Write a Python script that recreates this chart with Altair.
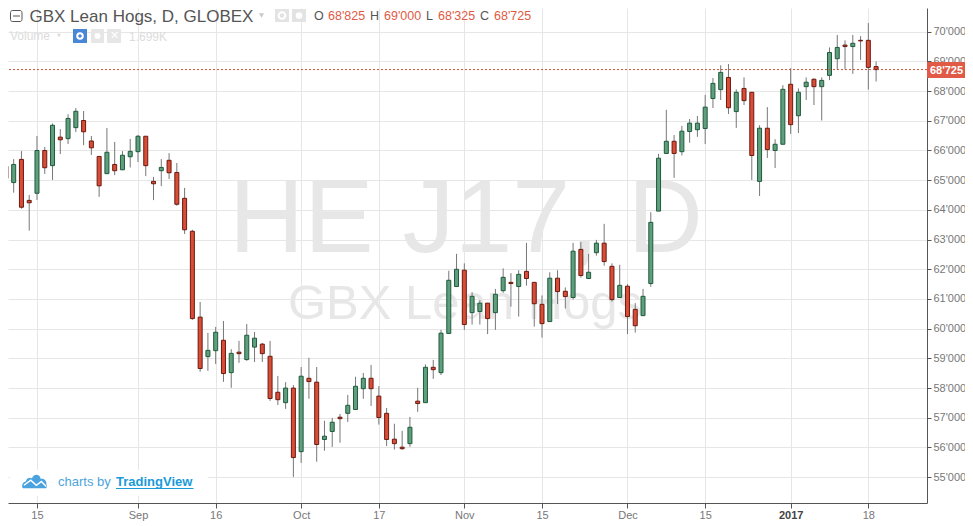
import altair as alt
import pandas as pd

tops = [65.47,65.53,65.70,64.32,66.00,66.00,66.85,66.45,67.08,67.32,67.01,66.32,65.80,65.94,65.53,65.84,65.97,66.48,66.48,64.96,
        65.43,65.67,65.26,64.39,63.28,60.39,59.27,59.88,59.61,59.17,59.21,59.78,59.68,59.48,59.07,57.86,58.00,58.00,58.40,58.33,
        58.20,56.38,56.85,57.02,57.42,58.06,58.33,58.33,57.73,57.15,56.28,56.01,56.68,57.56,58.70,58.70,59.85,61.63,62.00,61.97,
        61.09,60.86,60.86,61.16,61.73,61.56,61.83,61.93,61.56,60.82,61.70,61.70,61.26,62.61,62.67,61.90,62.88,62.88,62.10,61.46,
        61.43,60.65,61.09,63.58,65.74,66.31,66.31,66.65,66.92,66.92,67.46,68.26,68.63,68.46,67.96,68.09,67.96,66.75,66.75,66.21,
        68.06,68.23,67.96,68.30,68.40,68.36,69.30,69.47,69.55,69.61,69.71,69.71,68.825]
bottoms = [65.06,64.92,64.09,64.24,64.56,65.42,65.49,66.36,66.40,66.77,66.63,66.09,64.81,65.22,65.32,65.35,65.79,65.96,65.49,64.88,
           65.32,65.25,64.19,63.33,60.34,58.66,59.06,59.26,58.49,58.52,59.16,58.96,59.38,59.16,57.65,57.61,57.51,55.66,55.86,58.22,
           56.10,56.27,56.54,56.97,57.15,57.28,57.98,57.98,57.01,56.27,56.13,55.96,56.13,57.48,57.51,58.62,58.52,59.84,61.42,60.14,
           60.54,60.58,60.34,60.54,61.28,61.52,61.42,61.69,60.84,60.17,60.24,61.25,61.08,61.05,61.79,61.69,62.56,62.26,60.98,61.05,
           60.41,60.10,60.44,61.52,63.96,65.90,65.90,65.96,66.64,66.70,66.74,67.75,68.05,67.44,67.31,67.68,65.83,64.96,66.03,66.00,
           66.21,66.87,67.17,68.15,68.15,68.15,68.53,69.09,69.50,69.50,69.69,68.80,68.725]
highs = [65.74,65.71,65.98,64.50,66.49,66.12,66.91,66.72,67.22,67.43,67.33,66.49,65.80,66.76,66.29,65.98,66.39,66.52,66.48,65.11,
         65.71,65.91,65.58,64.74,63.33,60.90,59.86,60.06,60.26,59.31,59.59,60.16,59.89,59.52,59.59,58.41,58.20,58.10,58.71,59.02,
         58.71,56.90,57.00,57.13,57.77,58.38,58.51,58.78,58.07,57.33,56.80,56.56,57.03,58.01,58.80,58.95,59.96,61.95,62.52,62.20,
         61.23,60.96,60.86,61.34,62.03,61.87,61.97,62.89,61.56,61.12,61.90,61.97,61.39,62.89,62.92,62.52,62.99,63.53,62.20,62.15,
         61.50,60.86,61.34,63.92,65.89,67.37,66.52,66.83,67.06,67.16,67.87,68.44,68.87,68.91,68.06,68.46,67.96,66.85,67.46,66.38,
         68.20,68.77,68.09,68.46,68.43,68.46,69.47,69.89,69.71,69.89,69.85,70.29,69.00]
lows = [64.95,64.58,64.04,63.30,64.33,65.21,65.01,65.88,66.22,66.62,66.18,65.85,64.44,65.22,65.17,65.35,65.43,65.61,65.14,64.33,
        64.80,65.04,64.14,63.19,60.30,58.55,58.58,58.81,58.21,58.01,58.85,58.92,58.88,58.88,57.57,57.43,57.30,55.01,55.48,57.64,
        55.52,55.89,56.02,56.16,56.86,57.28,57.64,57.40,56.77,56.05,55.93,55.92,56.02,57.20,57.51,58.31,58.44,59.84,61.42,59.96,
        60.14,60.14,59.82,59.96,61.21,60.74,60.41,61.45,60.07,59.70,60.24,60.83,60.68,60.98,61.72,61.69,62.46,62.12,60.91,61.05,
        59.82,59.87,60.44,61.41,63.96,65.90,65.08,65.83,66.26,66.46,66.22,67.43,67.70,67.23,66.76,67.53,65.01,64.47,65.75,65.41,
        66.21,66.56,66.59,67.70,67.53,67.01,68.37,68.73,68.73,68.58,69.05,68.05,68.325]
down_idx = [0,2,3,5,7,10,11,12,14,18,19,21,22,23,24,25,28,30,33,34,35,37,39,40,43,47,48,49,50,51,53,55,59,62,65,67,68,69,71,72,
            74,77,78,80,81,86,93,95,96,98,101,104,108,110,111,112]

tick_idx = [4,17,27,38,48,59,69,80,90,101,111]
tick_labels = ["15","Sep","16","Oct","17","Nov","15","Dec","15","2017","18"]
price_ticks = list(range(55,71))
last_close = 68.725
title = "GBX Lean Hogs, D, GLOBEX"
watermark1 = "HE J17, D"
watermark2 = "GBX Lean Hogs"
ohlc_letters = ["O","H","L","C"]
ohlc_values = ["68'825","69'000","68'325","68'725"]

df = pd.DataFrame({"i":range(len(tops)),"top":tops,"bottom":bottoms,"high":highs,"low":lows})
df["dir"] = ["down" if i in down_idx else "up" for i in df["i"]]

x_dom = [0.27, 118.55]
y_dom = [54.131, 70.798]
xs = alt.Scale(domain=x_dom, nice=False, zero=False, padding=0)
ys = alt.Scale(domain=y_dom, nice=False, zero=False, padding=0)
one = alt.Data(values=[{"a":1}])
P = lambda v: v-8

label_map = "{" + ",".join(f"{i}:'{l}'" for i,l in zip(tick_idx,tick_labels)) + "}"
x_axis = alt.Axis(values=tick_idx, labelExpr=f"{label_map}[datum.value]", title=None, grid=True, gridColor="#e6e6e6",
                  domainColor="#555555", tickColor="#555555", tickSize=5, labelColor={"condition":{"test":"datum.value==101","value":"#444444"},"value":"#777777"},
                  labelFontWeight={"condition":{"test":"datum.value==101","value":"bold"},"value":"normal"},
                  labelFontSize=11, labelFont="Liberation Sans", labelPadding=1, labelOverlap=False, labelFlush=False)
y_axis = alt.Axis(values=price_ticks, orient="right", labelExpr="datum.value+\"'000\"", title=None, grid=True, gridColor="#e6e6e6",
                  domainColor="#555555", tickColor="#555555", tickSize=4, labelColor="#777777", labelFontSize=11,
                  labelFont="Liberation Sans", labelPadding=2, labelOverlap=False, labelFlush=False, labelBound=False,
                  tickCount=16)

def text(t, x, y, size=12, color="#555555", weight="normal", align="left"):
    return alt.Chart(one).mark_text(text=t, fontSize=size, color=color, fontWeight=weight, align=align, baseline="middle",
                                    font="Liberation Sans").encode(x=alt.value(P(x)), y=alt.value(P(y)))
def box(x1, x2, y1, y2, fill, stroke=None, radius=0):
    kw = {"fill":fill}
    if stroke: kw.update(stroke=stroke, strokeWidth=1)
    if radius: kw.update(cornerRadius=radius)
    return alt.Chart(one).mark_rect(**kw).encode(x=alt.value(P(x1)), x2=alt.value(P(x2)), y=alt.value(P(y1)), y2=alt.value(P(y2)))
def sym(shape, x, y, size, fill=None, stroke=None, sw=1):
    kw = {"shape":shape, "size":size, "filled":bool(fill), "opacity":1}
    if fill: kw["fill"]=fill; kw["strokeWidth"]=0
    if stroke: kw["stroke"]=stroke; kw["strokeWidth"]=sw
    return alt.Chart(one).mark_point(**kw).encode(x=alt.value(P(x)), y=alt.value(P(y)))
def hline(x1, x2, y, color, sw=1):
    return alt.Chart(one).mark_rule(color=color, strokeWidth=sw).encode(x=alt.value(P(x1)), x2=alt.value(P(x2)), y=alt.value(P(y)))

base = alt.Chart(df)
wm = [text(watermark1, 466, 221, size=104, color="#e7e7e7", align="center"),
      text(watermark2, 465, 304, size=49, color="#e7e7e7", align="center")]
logo_bg = box(10, 208, 470, 496, "#ffffff")
wick = base.mark_rule(color="#777777", strokeWidth=1).encode(
    x=alt.X("i:Q", scale=xs, axis=x_axis), y=alt.Y("low:Q", scale=ys, axis=y_axis), y2="high:Q")
body = base.mark_bar(size=4, strokeWidth=1, orient="vertical", clip=True).encode(
    x=alt.X("i:Q", scale=xs, axis=x_axis), y=alt.Y("bottom:Q", scale=ys, axis=y_axis), y2="top:Q",
    color=alt.Color("dir:N", scale=alt.Scale(domain=["up","down"], range=["#5f9f7d","#d94c36"]), legend=None),
    stroke=alt.Stroke("dir:N", scale=alt.Scale(domain=["up","down"], range=["#1f5a3c","#6b1a10"]), legend=None))
last = alt.Chart(alt.Data(values=[{"p":last_close}])).mark_rule(color="#c9503c", strokeWidth=1, strokeDash=[2,2]).encode(
    y=alt.Y("p:Q", scale=ys, axis=y_axis))

overlay = [
    box(927, 965, 62, 78, "#e05a46"),
    text(ohlc_values[3], 946.5, 70.5, size=11, color="#ffffff", weight="bold", align="center"),
    box(10.5, 22, 10.5, 21.5, "#ffffff", stroke="#555555", radius=2),
    hline(13, 20, 16, "#555555"),
    text(title, 29.5, 16.5, size=17, color="#555555"),
    sym("triangle-down", 261.5, 15.5, 26, fill="#c8c8c8"),
    box(275, 289, 9, 22, "#e3e3e3"), sym("circle", 282, 15.5, 45, stroke="#ffffff", sw=2),
    box(292, 306, 9, 22, "#e3e3e3"), sym("circle", 299, 15.5, 45, fill="#ffffff"),
]
for l, v, lx, vx in zip(ohlc_letters, ohlc_values, [314,370,426,480], [328,384,438,494]):
    overlay += [text(l, lx, 16, size=12.5, color="#555555"), text(v, vx, 16, size=12.5, color="#e05a46")]
overlay += [
    text("Volume", 10, 36, size=12, color="#dcdcdc"),
    sym("triangle-down", 59, 35.5, 18, fill="#dcdcdc"),
    box(73, 87, 29, 43, "#4a86d8"), sym("circle", 80, 36, 30, stroke="#ffffff", sw=2),
    box(91, 104, 29, 43, "#e6e6e6"), sym("circle", 97.5, 36, 35, fill="#ffffff"),
    box(107, 121, 29, 43, "#e6e6e6"), text("\u2715", 114, 36, size=11, color="#ffffff", align="center"),
    text("1.699K", 129, 37, size=12, color="#dcdcdc"),
    sym("M-.9,.55 C-1.05,.55 -1.05,.05 -.7,0 C-.65,-.3 -.3,-.35 -.2,-.25 C-.1,-.65 .45,-.65 .5,-.2 C.75,-.3 1,-.05 .95,.2 C1.05,.35 1,.55 .85,.55 Z", 34.5, 481.5, 620, fill="#4aa3df"),
    sym("M-.85,.3 L-.3,-.1 L.15,.3 L.55,0 L.95,.4", 34.5, 481.5, 620, stroke="#ffffff", sw=1.5),
    text("charts by", 58, 482, size=13, color="#4ca4de"),
    text("TradingView", 116, 482, size=13, color="#1a9ad9", weight="bold"),
    hline(116, 193.5, 488.5, "#1a9ad9"),
]

chart = alt.layer(*wm, logo_bg, wick, body, last, *overlay).properties(
    width=919, height=495,
    padding={"left":0,"top":0,"right":38,"bottom":19},
    autosize=alt.AutoSizeParams(type="none"),
).configure_view(stroke=None).resolve_scale(color="independent", stroke="independent")

chart.save("out.html", embed_options={"renderer": "svg", "actions": False})
